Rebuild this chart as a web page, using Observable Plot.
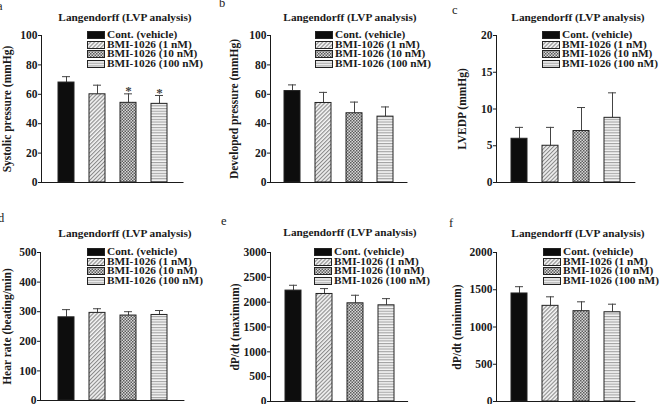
<!DOCTYPE html>
<html><head><meta charset="utf-8">
<script src="https://cdn.jsdelivr.net/npm/d3@7"></script>
<script src="https://cdn.jsdelivr.net/npm/@observablehq/plot@0.6"></script>
<style>
body{margin:0;background:#fff;}
#root{position:relative;width:663px;height:404px;overflow:hidden;font-family:"Liberation Serif","Times New Roman",serif;color:#1a1a1a;}
.panel{position:absolute;}
.title{position:absolute;font-weight:bold;font-size:11.3px;line-height:12px;white-space:nowrap;transform:translateX(-50%);}
.letter{position:absolute;font-size:12.5px;line-height:13px;}
.legend{position:absolute;font-weight:bold;font-size:11.3px;}
.legend .row{display:flex;align-items:center;white-space:nowrap;height:9.7px;line-height:9.7px;}
.legend svg{margin-right:2px;flex:none;}
</style></head><body>
<svg width="0" height="0" style="position:absolute">
  <defs>
    <pattern id="pDiag" patternUnits="userSpaceOnUse" width="2.8" height="2.8" patternTransform="rotate(-45)">
      <rect width="2.8" height="2.8" fill="#f4f4f4"/>
      <rect width="2.8" height="1.1" fill="#8a8a8a"/>
    </pattern>
    <pattern id="pCheck" patternUnits="userSpaceOnUse" width="3" height="3">
      <rect width="3" height="3" fill="#d8d8d8"/>
      <rect x="0" y="0" width="1.5" height="1.5" fill="#5c5c5c"/>
      <rect x="1.5" y="1.5" width="1.5" height="1.5" fill="#5c5c5c"/>
    </pattern>
    <pattern id="pHoriz" patternUnits="userSpaceOnUse" width="3" height="2.7">
      <rect width="3" height="2.7" fill="#f6f6f6"/>
      <rect width="3" height="1.1" fill="#a0a0a0"/>
    </pattern>
  </defs>
</svg>
<div id="root"></div>
<script>
// ---- data ----
const groups = ["Cont. (vehicle)", "BMI-1026 (1 nM)", "BMI-1026 (10 nM)", "BMI-1026 (100 nM)"];
const title = "Langendorff (LVP analysis)";

const systolicMean = [68, 60, 54.2, 53.5];
const systolicErr  = [4, 6.2, 6.1, 5.7];
const systolicSig  = [false, false, true, true];
const systolicTicks = [0, 20, 40, 60, 80, 100];

const developedMean = [62.2, 54.1, 47.1, 44.8];
const developedErr  = [4.2, 7.2, 7.6, 6.6];
const developedTicks = [0, 20, 40, 60, 80, 100];

const lvedpMean = [5.95, 5.0, 7.0, 8.8];
const lvedpErr  = [1.55, 2.5, 3.2, 3.4];
const lvedpTicks = [0, 5, 10, 15, 20];

const heartMean = [281, 296, 287, 289];
const heartErr  = [26, 14, 13, 15];
const heartTicks = [0, 100, 200, 300, 400, 500];

const dpMaxMean = [2233, 2165, 1977, 1937];
const dpMaxErr  = [107, 108, 162, 134];
const dpMaxTicks = [0, 500, 1000, 1500, 2000, 2500, 3000];

const dpMinMean = [1450, 1284, 1212, 1198];
const dpMinErr  = [91, 121, 126, 108];
const dpMinTicks = [0, 500, 1000, 1500, 2000];

const panels = [
  {letter: "a", label: "Systolic pressure (mmHg)", mean: systolicMean, err: systolicErr, sig: systolicSig, ticks: systolicTicks},
  {letter: "b", label: "Developed pressure (mmHg)", mean: developedMean, err: developedErr, ticks: developedTicks},
  {letter: "c", label: "LVEDP (mmHg)", mean: lvedpMean, err: lvedpErr, ticks: lvedpTicks},
  {letter: "d", label: "Hear rate (beating/min)", mean: heartMean, err: heartErr, ticks: heartTicks},
  {letter: "e", label: "dP/dt (maximum)", mean: dpMaxMean, err: dpMaxErr, ticks: dpMaxTicks},
  {letter: "f", label: "dP/dt (minimum)", mean: dpMinMean, err: dpMinErr, ticks: dpMinTicks}
];

// ---- styles / layout ----
const fills = ["#0d0d0d", "url(#pDiag)", "url(#pCheck)", "url(#pHoriz)"];
const layout = [
  {left: 0,   top: 0,   h: 200, ml: 41, mt: 35, mb: 18, po: 0.50, labelC: 8,   titleX: 125, titleY: 11,  legX: 87,  legY: 30,  letX: -3, letY: 0},
  {left: 221, top: 0,   h: 200, ml: 49, mt: 35, mb: 18, po: 0.42, labelC: 13.5,titleX: 350, titleY: 11,  legX: 315, legY: 30,  letX: 219, letY: -3},
  {left: 442, top: 0,   h: 200, ml: 54, mt: 35, mb: 18, po: 0.45, labelC: 21,  titleX: 578, titleY: 11,  legX: 542, legY: 30,  letX: 452, letY: 4},
  {left: 0,   top: 200, h: 204, ml: 40, mt: 52, mb: 4,  po: 0.53, labelC: 7.5, titleX: 125, titleY: 227, legX: 87,  legY: 247, letX: -2, letY: 212},
  {left: 221, top: 200, h: 204, ml: 49, mt: 52, mb: 3,  po: 0.43, labelC: 14.5,titleX: 350, titleY: 226, legX: 314, legY: 247, letX: 221, letY: 215},
  {left: 442, top: 200, h: 204, ml: 54, mt: 52, mb: 3,  po: 0.45, labelC: 15.5,titleX: 578, titleY: 227, legX: 543, legY: 247, letX: 449, letY: 217}
];
const STEP = 31.6, PI = 0.49;
const ink = "#1a1a1a";
const root = document.getElementById("root");

panels.forEach((p, k) => {
  const lay = layout[k];
  const data = groups.map((g, i) => ({group: g, mean: p.mean[i], err: p.err[i], sig: p.sig ? p.sig[i] : false, fill: fills[i]}));
  const ymax = p.ticks[p.ticks.length - 1];
  const frameW = STEP * (4 - PI + 2 * lay.po);
  const leftLine = (index, scales, values, dims) => {
    const g = d3.create("svg:line")
      .attr("x1", dims.marginLeft + 0.5).attr("x2", dims.marginLeft + 0.5)
      .attr("y1", scales.y(ymax)).attr("y2", scales.y(0))
      .attr("stroke", ink).attr("stroke-width", 1);
    return g.node();
  };
  const chart = Plot.plot({
    width: 221, height: lay.h,
    marginLeft: lay.ml, marginRight: 221 - lay.ml - frameW, marginTop: lay.mt, marginBottom: lay.mb,
    style: {fontFamily: '"Liberation Serif","Times New Roman",serif', fontSize: "11.5px", fontWeight: "bold", color: ink, background: "transparent", overflow: "visible"},
    x: {domain: groups, axis: null, paddingInner: PI, paddingOuter: lay.po},
    y: {domain: [0, ymax], ticks: p.ticks, tickFormat: d => String(d), tickSize: 3, tickPadding: 1,
        label: p.label, labelAnchor: "center", labelArrow: false, labelOffset: lay.ml - lay.labelC + 5.6},
    color: {type: "identity"},
    marks: [
      Plot.ruleX(data, {x: "group", y1: "mean", y2: d => d.mean + d.err, stroke: "#444", strokeWidth: 1}),
      Plot.tickY(data, {x: "group", y: d => d.mean + d.err, stroke: "#444", strokeWidth: 1, insetLeft: 4, insetRight: 4}),
      Plot.barY(data, {x: "group", y: "mean", fill: "fill", stroke: "#222", strokeWidth: 1}),
      Plot.text(data.filter(d => d.sig), {x: "group", y: d => d.mean + d.err, text: () => "*", dy: -3, fontSize: 13, fill: "#444"}),
      Plot.ruleY([0], {stroke: ink, strokeWidth: 1}),
      leftLine
    ]
  });
  const wrap = document.createElement("div");
  wrap.className = "panel";
  wrap.style.left = lay.left + "px";
  wrap.style.top = lay.top + "px";
  wrap.appendChild(chart);
  root.appendChild(wrap);

  const t = document.createElement("div");
  t.className = "title";
  t.textContent = title;
  t.style.left = lay.titleX + "px";
  t.style.top = lay.titleY + "px";
  root.appendChild(t);

  const l = document.createElement("div");
  l.className = "letter";
  l.textContent = p.letter;
  l.style.left = lay.letX + "px";
  l.style.top = lay.letY + "px";
  root.appendChild(l);

  const lg = document.createElement("div");
  lg.className = "legend";
  lg.style.left = lay.legX + "px";
  lg.style.top = lay.legY + "px";
  groups.forEach((g, i) => {
    const row = document.createElement("div");
    row.className = "row";
    row.innerHTML = `<svg width="18" height="8"><rect x="0.5" y="0.5" width="17" height="7" fill="${fills[i]}" stroke="#222" stroke-width="1"/></svg><span>${g}</span>`;
    lg.appendChild(row);
  });
  root.appendChild(lg);
});
</script>
</body></html>
